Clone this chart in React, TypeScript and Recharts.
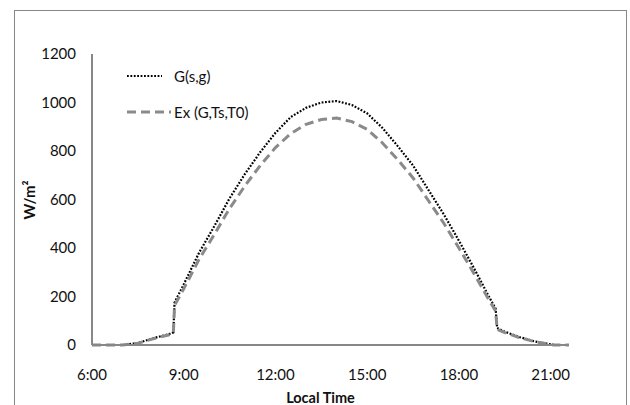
import React from 'react';
import { LineChart, Line, XAxis, YAxis, Legend } from 'recharts';

// hours of the day (decimal) and irradiance values
const hours = [6, 6.5, 7, 7.5, 8, 8.5, 8.66, 8.7, 9, 9.5, 10, 10.5, 11, 11.5, 12, 12.5, 13, 13.5, 14, 14.5, 15, 15.5, 16, 16.5, 17, 17.5, 18, 18.5, 19, 19.2, 19.25, 19.5, 20, 20.5, 21, 21.1, 21.6];
const gValues = [0, 0, 0, 8, 28, 44, 52, 175, 250, 380, 490, 605, 705, 795, 875, 940, 978, 1000, 1006, 990, 955, 895, 820, 740, 640, 540, 430, 315, 195, 150, 70, 55, 32, 14, 3, 0, 0];
const exValues = [0, 0, 0, 7, 26, 41, 48, 163, 232, 353, 456, 563, 656, 740, 814, 872, 910, 930, 936, 921, 889, 833, 764, 689, 596, 503, 400, 293, 182, 140, 65, 51, 30, 13, 3, 0, 0];

const xTicks = [6, 9, 12, 15, 18, 21];
const yTicks = [0, 200, 400, 600, 800, 1000, 1200];

const data = hours.map((t, i) => ({ t, g: gValues[i], ex: exValues[i] }));

const FONT = 'Lato, "Open Sans", sans-serif';
const AXIS = '#878787';

const seriesStyle: Record<string, { color: string; width: number; dash: string; len: number }> = {
  g: { color: '#000', width: 2.2, dash: '1.8 1.6', len: 35 },
  ex: { color: '#8a8a8a', width: 3, dash: '9 5', len: 44 },
};
const legendOrder = ['g', 'ex'];

const LegendBox = (props: any) => {
  const items = [...(props.payload || [])].sort(
    (a: any, b: any) => legendOrder.indexOf(a.dataKey) - legendOrder.indexOf(b.dataKey)
  );
  return (
    <div style={{ fontFamily: FONT, fontSize: 15, color: '#111' }}>
      {items.map((it: any) => {
        const s = seriesStyle[it.dataKey];
        return (
          <div key={it.dataKey} style={{ display: 'flex', alignItems: 'center', height: 36 }}>
            <svg width={47} height={10}>
              <line x1={0} x2={s.len} y1={5} y2={5} stroke={s.color} strokeWidth={s.width} strokeDasharray={s.dash} />
            </svg>
            <span>{it.value}</span>
          </div>
        );
      })}
    </div>
  );
};

export default function App() {
  return (
    <div style={{ position: 'absolute', left: 0, top: 0, width: 630, height: 405, overflow: 'hidden', background: '#fff' }}>
      <div style={{ position: 'absolute', left: 14, top: 10, width: 611, height: 420, border: `1.5px solid ${AXIS}` }} />
      <div style={{ position: 'absolute', left: 0, top: 0 }}>
        <LineChart width={630} height={405} data={data} margin={{ top: 54, right: 61, left: 0, bottom: 30 }}>
          <XAxis
            dataKey="t"
            type="number"
            domain={[6, 21.6]}
            ticks={xTicks}
            tickFormatter={(h: number) => `${h}:00`}
            stroke={AXIS}
            strokeWidth={2}
            tickLine={false}
            tickMargin={18}
            height={30}
            tick={{ fill: '#111', fontSize: 15, fontFamily: FONT }}
          />
          <YAxis
            type="number"
            domain={[0, 1200]}
            ticks={yTicks}
            width={92}
            stroke={AXIS}
            strokeWidth={2}
            tickLine={false}
            tickMargin={10}
            tick={{ fill: '#111', fontSize: 15, fontFamily: FONT }}
          />
          <Legend
            layout="vertical"
            align="center"
            verticalAlign="middle"
            content={<LegendBox />}
            wrapperStyle={{ position: 'absolute', left: 127, top: 58, width: 200 }}
          />
          <Line
            dataKey="g"
            name="G(s,g)"
            type="linear"
            stroke={seriesStyle.g.color}
            strokeWidth={seriesStyle.g.width}
            strokeDasharray={seriesStyle.g.dash}
            dot={false}
            isAnimationActive={false}
          />
          <Line
            dataKey="ex"
            name="Ex (G,Ts,T0)"
            type="linear"
            stroke={seriesStyle.ex.color}
            strokeWidth={seriesStyle.ex.width}
            strokeDasharray={seriesStyle.ex.dash}
            dot={false}
            isAnimationActive={false}
          />
        </LineChart>
      </div>
      <div style={{ position: 'absolute', left: 14, width: 613, top: 389, textAlign: 'center', fontFamily: FONT, fontWeight: 700, fontSize: 14.5, color: '#111' }}>
        Local Time
      </div>
      <div style={{ position: 'absolute', left: 29, top: 200, transform: 'translate(-50%, -50%) rotate(-90deg)', fontFamily: FONT, fontWeight: 700, fontSize: 15, color: '#111', whiteSpace: 'nowrap' }}>
        W/m²
      </div>
    </div>
  );
}
